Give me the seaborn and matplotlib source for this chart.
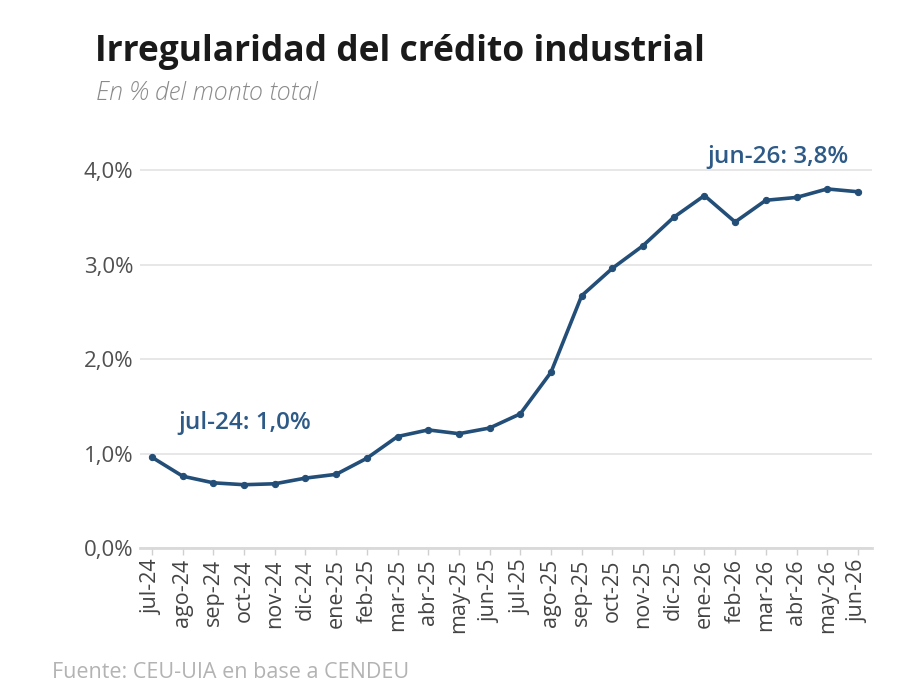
import matplotlib.pyplot as plt
import matplotlib.ticker as mticker
import pandas as pd
import seaborn as sns

# data
months = ["jul-24", "ago-24", "sep-24", "oct-24", "nov-24", "dic-24",
          "ene-25", "feb-25", "mar-25", "abr-25", "may-25", "jun-25",
          "jul-25", "ago-25", "sep-25", "oct-25", "nov-25", "dic-25",
          "ene-26", "feb-26", "mar-26", "abr-26", "may-26", "jun-26"]
irregularity = [0.96, 0.76, 0.69, 0.67, 0.68, 0.74,
                0.78, 0.95, 1.18, 1.25, 1.21, 1.27,
                1.42, 1.86, 2.67, 2.96, 3.20, 3.50,
                3.73, 3.45, 3.68, 3.71, 3.80, 3.77]
y_ticks = [0, 1, 2, 3, 4]

df = pd.DataFrame({"mes": months, "valor": irregularity})
df["pos"] = range(len(df))

line_color = "#234e78"
font = "Open Sans"

sns.set_theme(style="white")
plt.rcParams["font.family"] = [font, "DejaVu Sans"]

fig = plt.figure(figsize=(9, 7), dpi=100)
ax = fig.add_axes([0.1556, 0.2171, 0.8133, 0.567])

sns.lineplot(data=df, x="pos", y="valor", ax=ax, color=line_color,
             linewidth=2.6, marker="o", markersize=4.5,
             markeredgecolor=line_color, clip_on=False)

ax.set_xlim(-0.39, len(months) - 1 + 0.46)
ax.set_ylim(0, 4.2)
ax.set_yticks(y_ticks)
ax.yaxis.set_major_formatter(mticker.FuncFormatter(lambda v, p: f"{v:.1f}%".replace(".", ",")))
ax.set_xticks(df["pos"])
ax.set_xticklabels(df["mes"], rotation=90)
ax.set_xlabel("")
ax.set_ylabel("")

ax.grid(axis="y", color="#e3e3e3", linewidth=1.2)
ax.grid(axis="x", visible=False)
for s in ["top", "right", "left"]:
    ax.spines[s].set_visible(False)
ax.spines["bottom"].set_color("#d9d9d9")
ax.spines["bottom"].set_linewidth(2)

ax.tick_params(axis="y", length=0, labelsize=16, labelcolor="#505050", pad=5)
ax.tick_params(axis="x", bottom=True, length=5, width=1, color="#d0d0d0",
               labelsize=15.5, labelcolor="#444444", pad=3)

# annotations
ax.annotate("jul-24: 1,0%", xy=(df["pos"].iloc[0], irregularity[0]),
            xytext=(19, 25), textcoords="offset points", color="#2d5a87",
            fontsize=17.5, fontweight="semibold", ha="left", va="center")
ax.annotate("jun-26: 3,8%", xy=(df["pos"].iloc[-1], irregularity[-1]),
            xytext=(-7, 25), textcoords="offset points", color="#2d5a87",
            fontsize=17.5, fontweight="semibold", ha="right", va="center")

fig.text(0.106, 0.926, "Irregularidad del crédito industrial", fontsize=25.5,
         fontweight="bold", color="#1a1a1a", ha="left", va="center")
fig.text(0.107, 0.866, "En % del monto total", fontsize=18, style="italic",
         fontweight="light", color="#8a8a8a", ha="left", va="center")
fig.text(0.058, 0.040, "Fuente: CEU-UIA en base a CENDEU", fontsize=15.5,
         color="#b3b3b3", ha="left", va="center")

fig.savefig("out.png", dpi=100, facecolor="white")
